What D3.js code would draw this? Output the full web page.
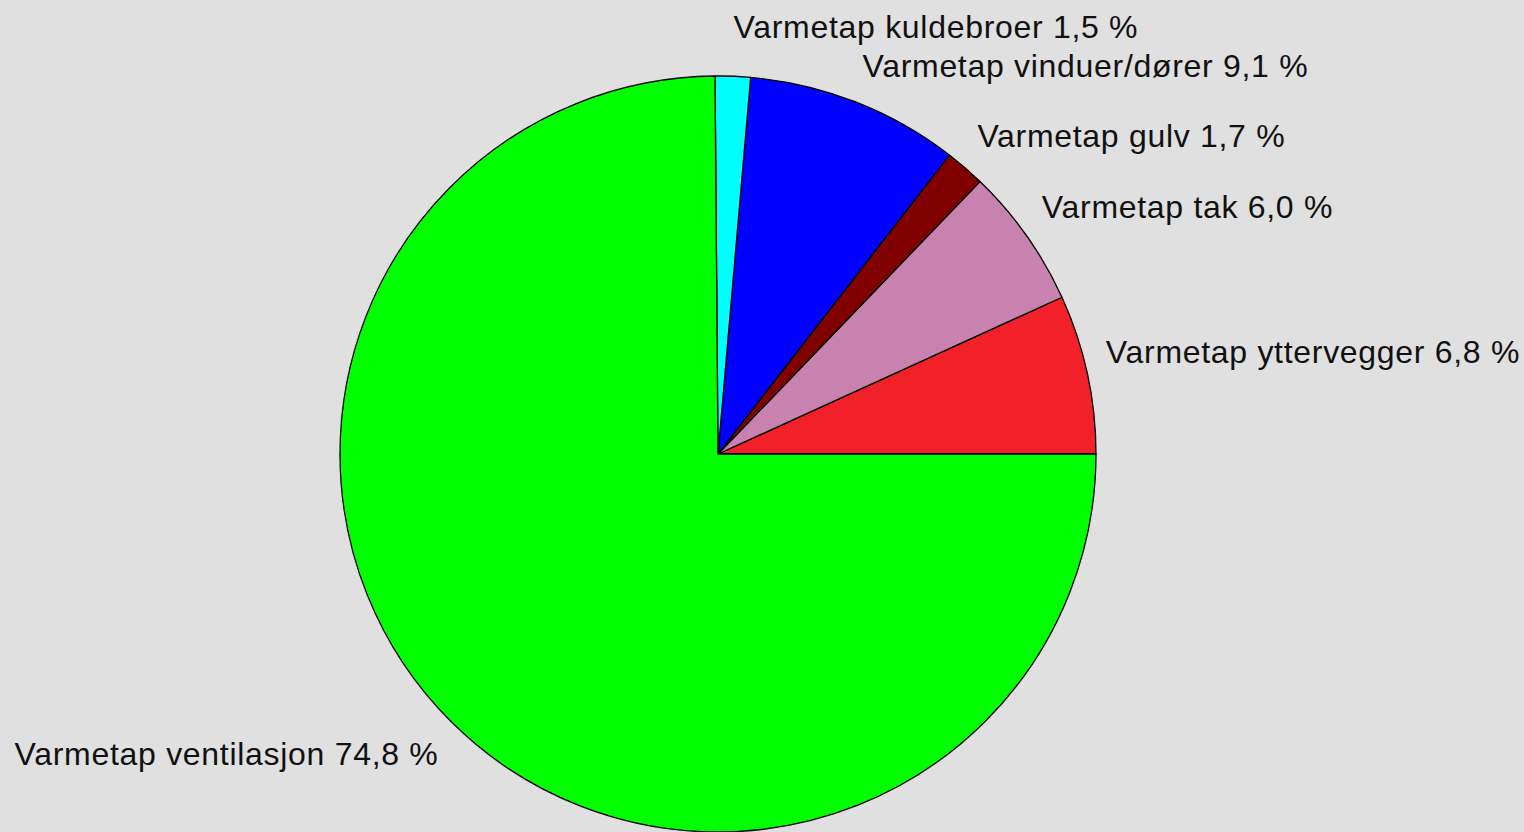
<!DOCTYPE html>
<html lang="no">
<head>
    <meta charset="UTF-8">
    <title>Varmetap</title>
    <script src="https://d3js.org/d3.v7.min.js"></script>
    <style type="text/css">
        body {
            margin: 0;
            background: #e0e0e0;
            overflow: hidden;
        }

        .label {
            font-family: "Liberation Sans", Arial, sans-serif;
            font-size: 32px;
            letter-spacing: 0.7px;
            fill: #111;
        }
    </style>
</head>
<body>
    <script type="text/javascript">
        // data, counter-clockwise from 3 o'clock
        const categories = ["yttervegger", "tak", "gulv", "vinduer/dører", "kuldebroer", "ventilasjon"];
        const values = [6.8, 6.0, 1.7, 9.1, 1.5, 74.8];
        const colors = ["#f22129", "#c882b0", "#800000", "#0000ff", "#00ffff", "#00ff00"];

        let w = 1524,
            h = 832,
            cx = 718,
            cy = 454,
            radius = 378;

        let svg = d3.select("body").append("svg").attr("width", w).attr("height", h);

        let dataset = categories.map(function (c, i) {
            return { name: c, value: values[i], color: colors[i] };
        });

        // start at 3 o'clock and go counter-clockwise
        const pie = d3.pie()
            .sort(null)
            .startAngle(Math.PI / 2)
            .endAngle(Math.PI / 2 - 2 * Math.PI)
            .value(function (d) { return d.value; });

        const arc = d3.arc().innerRadius(0).outerRadius(radius);

        const arcs = pie(dataset);

        const g = svg.append("g").attr("transform", `translate(${cx}, ${cy})`);

        g.selectAll("path")
            .data(arcs)
            .enter()
            .append("path")
            .attr("d", arc)
            .attr("fill", function (d) { return d.data.color; })
            .attr("stroke", "#000")
            .attr("stroke-width", 1.3)
            .attr("stroke-linejoin", "round");

        // label anchor points just outside the rim
        const labelR = radius * 1.05;
        let labels = arcs.map(function (d) {
            let a = (d.startAngle + d.endAngle) / 2;
            let x = labelR * Math.sin(a),
                y = -labelR * Math.cos(a);
            return {
                text: "Varmetap " + d.data.name + " " + d3.format(".1f")(d.data.value).replace(".", ",") + " %",
                x: x,
                // upper half: text sits above the point, lower half: below
                y: y < 0 ? y - 7 : y + 29,
                anchor: x >= 0 ? "start" : "end"
            };
        });

        // push overlapping labels on the right side upwards (bottom to top)
        const lineGap = 39;
        let right = labels.filter(function (l) { return l.anchor === "start"; })
            .sort(function (a, b) { return b.y - a.y; });
        for (let i = 1; i < right.length; i++) {
            if (right[i].y > right[i - 1].y - lineGap) {
                right[i].y = right[i - 1].y - lineGap;
            }
        }

        g.selectAll("text")
            .data(labels)
            .enter()
            .append("text")
            .attr("class", "label")
            .attr("x", function (d) { return d.x; })
            .attr("y", function (d) { return d.y; })
            .attr("text-anchor", function (d) { return d.anchor; })
            .text(function (d) { return d.text; });
    </script>
</body>
</html>
